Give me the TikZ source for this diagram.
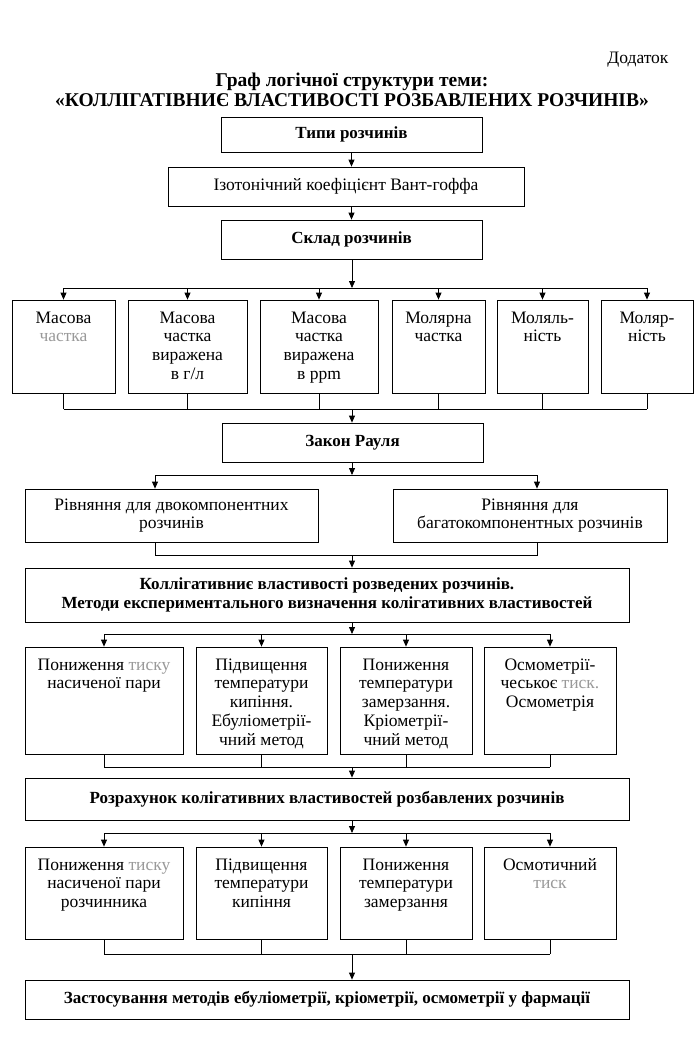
\documentclass[tikz,border=0pt]{standalone}
\usepackage{fontspec}
\setmainfont{Liberation Serif}
\usetikzlibrary{arrows.meta}

\newcommand{\cell}[3]{\parbox[c][#2][t]{#1}{\centering\rule{0pt}{23pt}#3}}
\newcommand{\faint}[1]{\textcolor{black!40}{#1}}

\tikzset{
  box/.style={draw, line width=0.8pt, inner sep=0pt, align=center, font=\fontsize{17.5}{18.8}\selectfont},
  hbox/.style={box, font=\fontsize{17}{19.5}\selectfont\bfseries},
  arr/.style={line width=0.8pt, -{Triangle[length=7pt,width=6pt]}},
  lnk/.style={line width=0.8pt},
}

\begin{document}
\begin{tikzpicture}[x=1pt,y=-1pt]
  \useasboundingbox (0,0) rectangle (700,1053);
  \node[anchor=base east, font=\fontsize{17.5}{19}\selectfont] (dod) at (672,63) {Додаток};
  \node[align=center, font=\fontsize{19.5}{20.5}\selectfont\bfseries] (title) at (352,90)
    {Граф логічної структури теми:\\«КОЛЛІГАТІВНИЄ ВЛАСТИВОСТІ РОЗБАВЛЕНИХ РОЗЧИНІВ»};

  \node[hbox, minimum width=261pt, minimum height=35pt] (typy) at (351.5,134.5) {Типи розчинів};
  \node[box, minimum width=356pt, minimum height=39pt] (izo) at (346,186.5) {Ізотонічний коефіцієнт Вант-гоффа};
  \node[hbox, minimum width=261pt, minimum height=39pt] (sklad) at (351.5,239.5) {Склад розчинів};

  \node[box] (m1) at (63.5,346.5) {\cell{103pt}{93pt}{Масова\\\faint{частка}}};
  \node[box] (m2) at (187.5,346.5) {\cell{119pt}{93pt}{Масова\\частка\\виражена\\в г/л}};
  \node[box] (m3) at (319,346.5) {\cell{118pt}{93pt}{Масова\\частка\\виражена\\в ppm}};
  \node[box] (m4) at (438.5,346.5) {\cell{93pt}{93pt}{Молярна\\частка}};
  \node[box] (m5) at (542.5,346.5) {\cell{91pt}{93pt}{Моляль-\\ність}};
  \node[box] (m6) at (647,346.5) {\cell{92pt}{93pt}{Моляр-\\ність}};

  \node[hbox, minimum width=261pt, minimum height=39pt] (zakon) at (352.5,442.5) {Закон Рауля};
  \node[box, minimum width=293pt, minimum height=53pt] (rivn1) at (171.5,515.5) {Рівняння для двокомпонентних\\розчинів};
  \node[box, minimum width=274pt, minimum height=53pt] (rivn2) at (530,515.5) {Рівняння для\\багатокомпонентных розчинів};

  \node[hbox, minimum width=604pt, minimum height=54pt] (kol) at (327,595)
    {Коллігативниє властивості розведених розчинів.\\Методи експериментального визначення колігативних властивостей};

  \node[box] (p1) at (104,700.5) {\cell{158pt}{107pt}{Пониження \faint{тиску}\\насиченої пари}};
  \node[box] (p2) at (261.5,700.5) {\cell{131pt}{107pt}{Підвищення\\температури\\кипіння.\\Ебуліометрії-\\чний метод}};
  \node[box] (p3) at (406,700.5) {\cell{132pt}{107pt}{Пониження\\температури\\замерзання.\\Кріометрії-\\чний метод}};
  \node[box] (p4) at (550,700.5) {\cell{132pt}{107pt}{Осмометрії-\\чеськоє \faint{тиск.}\\Осмометрія}};

  \node[hbox, minimum width=604pt, minimum height=42pt] (rozr) at (327,799)
    {Розрахунок колігативних властивостей розбавлених розчинів};

  \node[box] (q1) at (104,893) {\cell{158pt}{92pt}{Пониження \faint{тиску}\\насиченої пари\\розчинника}};
  \node[box] (q2) at (261.5,893) {\cell{131pt}{92pt}{Підвищення\\температури\\кипіння}};
  \node[box] (q3) at (406,893) {\cell{132pt}{92pt}{Пониження\\температури\\замерзання}};
  \node[box] (q4) at (550,893) {\cell{132pt}{92pt}{Осмотичний\\\faint{тиск}}};

  \node[hbox, minimum width=604pt, minimum height=39pt] (zast) at (327,999.5)
    {Застосування методів ебуліометрії, кріометрії, осмометрії у фармації};

  \coordinate (b1) at (352,288);
  \coordinate (b2) at (352,409);
  \coordinate (b3) at (352,475);
  \coordinate (r1) at (155,475);
  \coordinate (r2) at (537,475);
  \coordinate (b4) at (352,555);
  \coordinate (b5) at (352,634);
  \coordinate (b6) at (352,767);
  \coordinate (b7) at (352,833);
  \coordinate (b8) at (352,954);

  \draw[arr] (typy.south) -- (typy.south |- izo.north);
  \draw[arr] (izo.south -| sklad.south) -- (sklad.north);

  \draw[arr] (sklad.south -| b1) -- (b1);
  \draw[lnk] (m1.north |- b1) -- (m6.north |- b1);
  \draw[lnk] (m1.south |- b2) -- (m6.south |- b2);
  \foreach \n in {m1,m2,m3,m4,m5,m6} {
      \draw[arr] (\n.north |- b1) -- (\n.north);
      \draw[lnk] (\n.south) -- (\n.south |- b2);
    }
  \draw[arr] (b2) -- (b2 |- zakon.north);

  \draw[arr] (zakon.south -| b3) -- (b3);
  \draw[lnk] (r1) -- (r2);
  \draw[arr] (r1) -- (r1 |- rivn1.north);
  \draw[arr] (r2) -- (r2 |- rivn2.north);
  \draw[lnk] (r1 |- rivn1.south) -- (r1 |- b4) -- (r2 |- b4) -- (r2 |- rivn2.south);
  \draw[arr] (b4) -- (b4 |- kol.north);

  \draw[arr] (kol.south -| b5) -- (b5);
  \draw[lnk] (p1.north |- b5) -- (p4.north |- b5);
  \draw[lnk] (p1.south |- b6) -- (p4.south |- b6);
  \foreach \n in {p1,p2,p3,p4} {
      \draw[arr] (\n.north |- b5) -- (\n.north);
      \draw[lnk] (\n.south) -- (\n.south |- b6);
    }
  \draw[arr] (b6) -- (b6 |- rozr.north);

  \draw[arr] (rozr.south -| b7) -- (b7);
  \draw[lnk] (q1.north |- b7) -- (q4.north |- b7);
  \draw[lnk] (q1.south |- b8) -- (q4.south |- b8);
  \foreach \n in {q1,q2,q3,q4} {
      \draw[arr] (\n.north |- b7) -- (\n.north);
      \draw[lnk] (\n.south) -- (\n.south |- b8);
    }
  \draw[arr] (b8) -- (b8 |- zast.north);
\end{tikzpicture}
\end{document}
